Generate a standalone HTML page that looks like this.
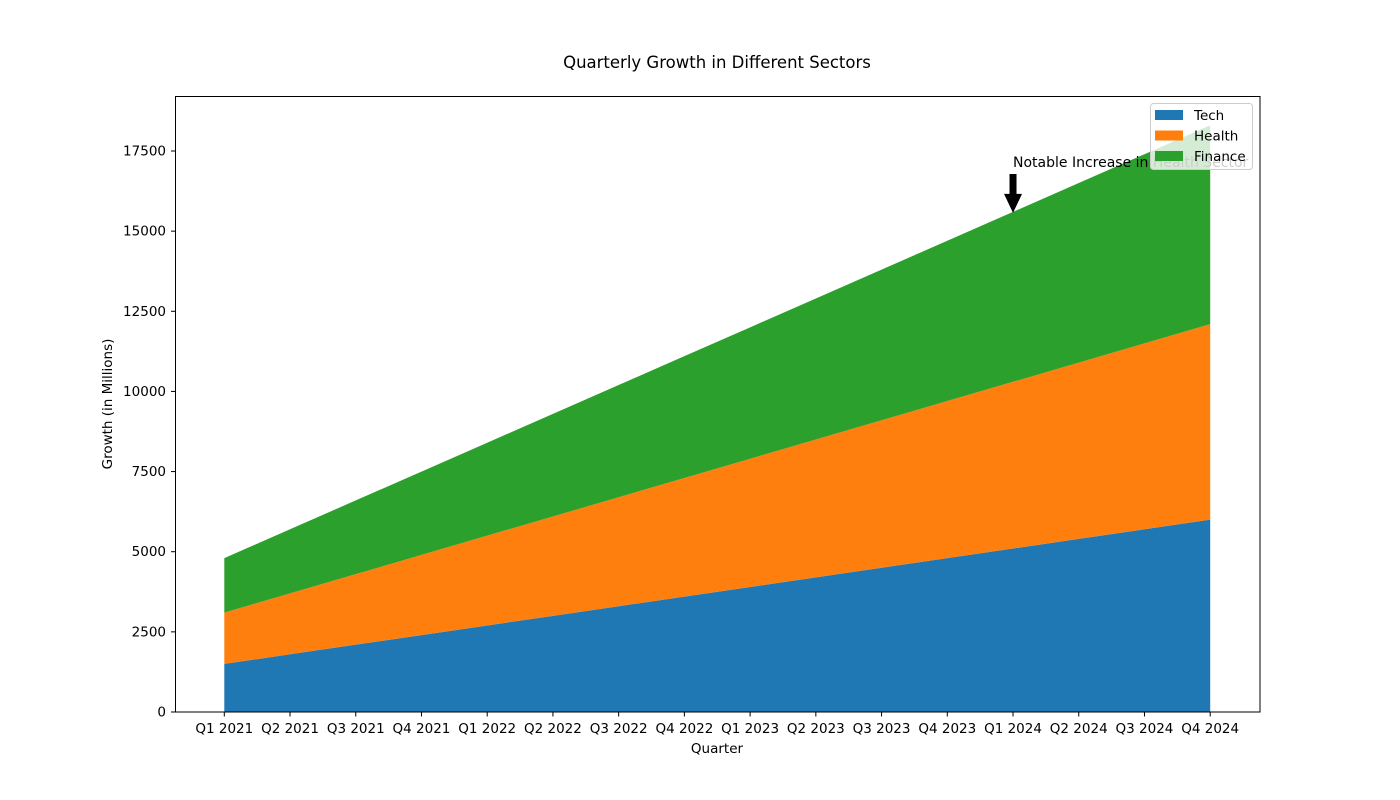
<!DOCTYPE html>
<html><head><meta charset="utf-8"><style>
body{margin:0;background:#fff;}
svg{display:block;font-family:"DejaVu Sans","Liberation Sans",sans-serif;}
</style></head><body>
<svg id="chart" width="1400" height="800" xmlns="http://www.w3.org/2000/svg">
<rect width="1400" height="800" fill="#fff"/>
<text x="717" y="68" font-size="16.5" text-anchor="middle">Quarterly Growth in Different Sectors</text>
<g id="areas"></g>
<g id="annot"></g>
<rect x="175.5" y="96.5" width="1084.5" height="615.5" fill="none" stroke="#000" stroke-width="1"/>
<g id="xticks"></g>
<g id="yticks"></g>
<text x="717" y="753" font-size="13.5" text-anchor="middle">Quarter</text>
<text transform="translate(112,404) rotate(-90)" font-size="13.5" text-anchor="middle">Growth (in Millions)</text>
<g id="legend"></g>
</svg>
<script>
const categories=["Q1 2021","Q2 2021","Q3 2021","Q4 2021","Q1 2022","Q2 2022","Q3 2022","Q4 2022","Q1 2023","Q2 2023","Q3 2023","Q4 2023","Q1 2024","Q2 2024","Q3 2024","Q4 2024"];
const tech=[1500,1800,2100,2400,2700,3000,3300,3600,3900,4200,4500,4800,5100,5400,5700,6000];
const health=[1600,1900,2200,2500,2800,3100,3400,3700,4000,4300,4600,4900,5200,5500,5800,6100];
const finance=[1700,2000,2300,2600,2900,3200,3500,3800,4100,4400,4700,5000,5300,5600,5900,6200];
const yTicks=[0,2500,5000,7500,10000,12500,15000,17500];
const seriesNames=["Tech","Health","Finance"];
const colors=["#1f77b4","#ff7f0e","#2ca02c"];
const annotIndex=12;
const annotText="Notable Increase in Health Sector";
const NS="http://www.w3.org/2000/svg";
const X0=224.3,X1=1210.2,Y0=712,YPX=561/17500;
const xs=i=>X0+(X1-X0)*i/(categories.length-1);
const ys=v=>Y0-v*YPX;
function mk(t,a,p){const e=document.createElementNS(NS,t);for(const k in a)e.setAttribute(k,a[k]);p.appendChild(e);return e;}
const all=[tech,health,finance];
let base=categories.map(()=>0);
const areas=document.getElementById('areas');
all.forEach((s,si)=>{
 const top=base.map((b,i)=>b+s[i]);
 let d="M"+categories.map((c,i)=>xs(i)+","+ys(top[i])).join("L");
 for(let i=categories.length-1;i>=0;i--)d+="L"+xs(i)+","+ys(base[i]);
 const p=mk('path',{d:d+"Z",fill:colors[si]},areas);
 
 
 base=top;
});
const xt=document.getElementById('xticks');
categories.forEach((c,i)=>{
 const l=mk('line',{x1:xs(i),x2:xs(i),y1:712,y2:716.5,stroke:"#000"},xt);
 
 
 const t=mk('text',{x:xs(i),y:733,"font-size":13.5,"text-anchor":"middle"},xt);
 t.textContent=c;
 
 
});
const yt=document.getElementById('yticks');
yTicks.forEach(v=>{
 const l=mk('line',{x1:171,x2:175.5,y1:ys(v),y2:ys(v),stroke:"#000"},yt);
 
 
 const t=mk('text',{x:166,y:ys(v)+4.5,"font-size":13.5,"text-anchor":"end"},yt);
 t.textContent=v;
 
 
});
const an=document.getElementById('annot');
const tot=tech[annotIndex]+health[annotIndex]+finance[annotIndex];
const ax=xs(annotIndex),ay=ys(tot);
const t=mk('text',{x:ax,y:ys(17000)+0,"font-size":14},an);
t.textContent=annotText;


const tipY=ay+1,headY=tipY-19,tailY=ys(17000)+7;
const ar=mk('path',{d:`M${ax-3.5},${tailY}L${ax+3.5},${tailY}L${ax+3.5},${headY}L${ax+9},${headY}L${ax},${tipY}L${ax-9},${headY}L${ax-3.5},${headY}Z`,fill:"#000"},an);


const lg=document.getElementById('legend');
const lb=mk('rect',{x:1150.5,y:103.5,width:102,height:66,rx:3,fill:"rgba(255,255,255,0.8)",stroke:"#ccc"},lg);


seriesNames.forEach((n,i)=>{
 const y=110+i*20.5;
 const r=mk('rect',{x:1155,y:y,width:28,height:10,fill:colors[i]},lg);
 
 
 const tx=mk('text',{x:1194,y:y+10,"font-size":13.5},lg);
 tx.textContent=n;
 
 
});
</script>
</body></html>
